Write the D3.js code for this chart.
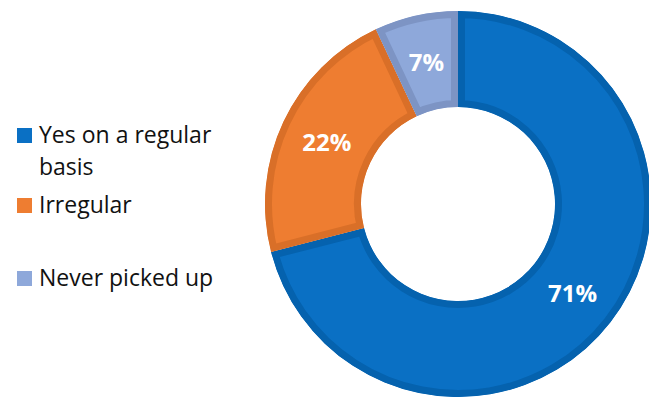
<!DOCTYPE html>
<html>
<head>
<meta charset="utf-8">
<script src="https://cdn.jsdelivr.net/npm/d3@7"></script>
<style>
  html, body { margin: 0; padding: 0; background: #fff; }
  svg { display: block; }
</style>
</head>
<body>
<svg id="chart" width="649" height="400"></svg>
<script>
// Survey answers and their shares (percent)
const categories = ["Yes on a regular basis", "Irregular", "Never picked up"];
const values = [71, 22, 7];
const fillColors = ["#0A70C4", "#EE7D31", "#8EA8DA"];
const edgeColors = ["#0562AE", "#D96F28", "#7D94C4"];
const legendLines = [["Yes on a regular", "basis"], ["Irregular"], ["Never picked up"]];

const svg = d3.select("#chart");
const cx = 458, cy = 204, outerR = 193, innerR = 97;

const pie = d3.pie().sort(null).value(d => d.value);
const arcs = pie(categories.map((c, i) => ({ name: c, value: values[i], i })));
const arc = d3.arc().innerRadius(innerR).outerRadius(outerR);

const g = svg.append("g").attr("transform", `translate(${cx},${cy})`);
const defs = svg.append("defs");

// Each slice carries a darker inner border, drawn as a clipped stroke
arcs.forEach((a, k) => {
  defs.append("clipPath").attr("id", "clip" + k)
    .append("path").attr("d", arc(a));
});

g.selectAll("path.slice")
  .data(arcs)
  .join("path")
  .attr("class", "slice")
  .attr("d", arc)
  .attr("fill", d => fillColors[d.data.i])
  .attr("stroke", d => edgeColors[d.data.i])
  .attr("stroke-width", 14)
  .attr("stroke-linejoin", "miter")
  .attr("clip-path", (d, k) => `url(#clip${k})`);

// Percentage labels at slice centroids
g.selectAll("text.pct")
  .data(arcs)
  .join("text")
  .attr("class", "pct")
  .attr("transform", d => `translate(${arc.centroid(d)})`)
  .attr("text-anchor", "middle")
  .attr("dy", "0.36em")
  .attr("fill", "#fff")
  .attr("font-family", "'Open Sans', sans-serif")
  .attr("font-weight", "bold")
  .attr("font-size", 24)
  .text(d => d.data.value + "%");

// Legend
const legendTop = [128, 198, 271];
const legend = svg.append("g");
categories.forEach((c, i) => {
  const y = legendTop[i];
  legend.append("rect")
    .attr("x", 17).attr("y", y)
    .attr("width", 15).attr("height", 15)
    .attr("fill", fillColors[i]);
  const t = legend.append("text")
    .attr("x", 39).attr("y", y + 15)
    .attr("fill", "#111")
    .attr("font-family", "'Open Sans', sans-serif")
    .attr("font-size", 23);
  legendLines[i].forEach((line, j) => {
    t.append("tspan").attr("x", 39).attr("dy", j === 0 ? 0 : 32).text(line);
  });
});
</script>
</body>
</html>
